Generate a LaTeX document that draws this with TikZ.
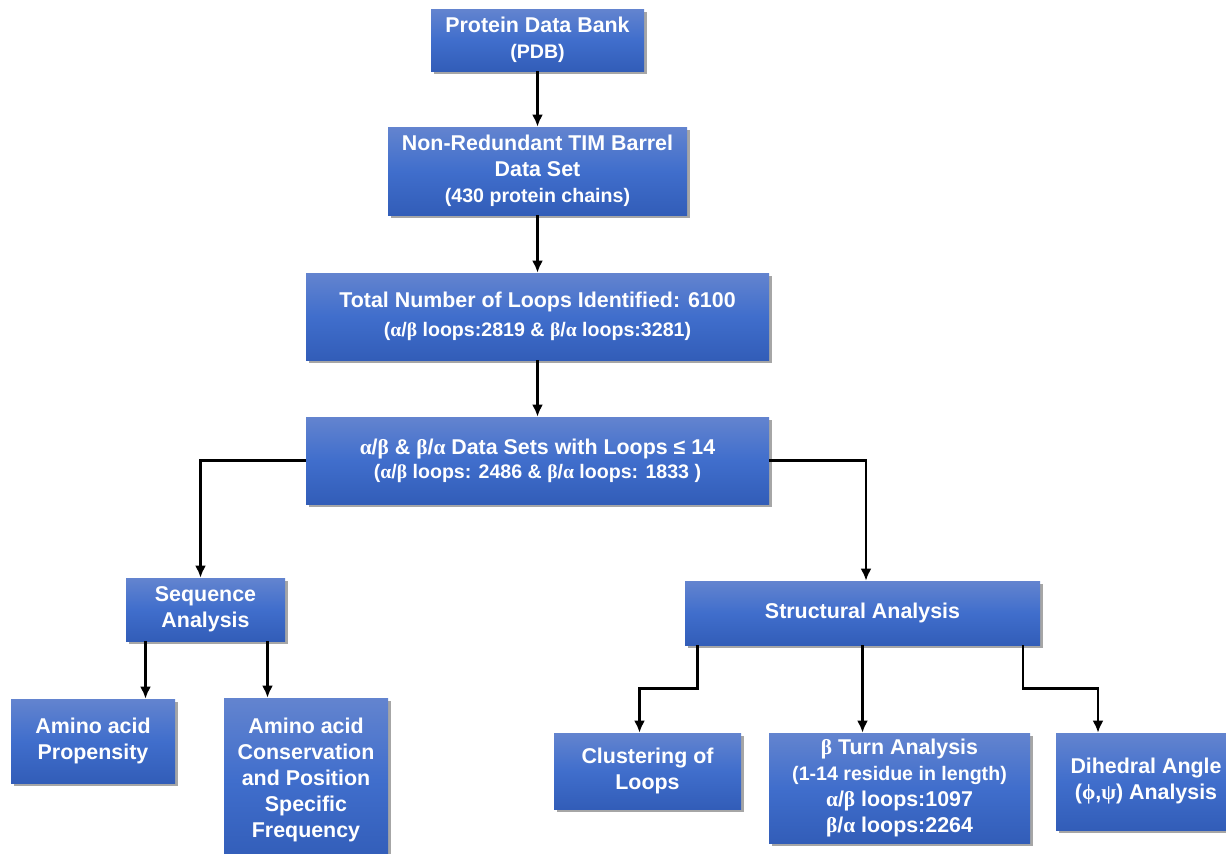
\documentclass[tikz,border=0pt]{standalone}
\usepackage{fontspec}
\setmainfont{Liberation Sans}
\newfontfamily\grk{Liberation Serif}
\usetikzlibrary{positioning,calc,shadows,arrows.meta}
\tikzset{>={Latex[length=6pt,width=5.5pt]}}
\definecolor{boxtop}{RGB}{99,132,207}
\definecolor{boxmid}{RGB}{64,110,204}
\definecolor{boxbot}{RGB}{50,93,184}
\newcommand{\mainsize}{\fontsize{10.7}{13}\selectfont}
\newcommand{\subsize}{\fontsize{9.8}{12.6}\selectfont}
\newcommand{\gAlpha}{{\grk α}}
\newcommand{\gBeta}{{\grk β}}
\newcommand{\gPhi}{{\grk ϕ}}
\newcommand{\gPsi}{{\grk ψ}}
\tikzset{
  flowbox/.style={top color=boxtop,bottom color=boxbot,middle color=boxmid,
    text=white,font=\bfseries\mainsize,align=center,inner sep=0pt,
    drop shadow={shadow xshift=1.3pt,shadow yshift=-1.3pt,opacity=0.35,fill=black}},
  flow/.style={->,line width=1.1pt,black},
}

\begin{document}
\begin{tikzpicture}[x=0.5pt,y=-0.5pt]
  \useasboundingbox (0,0) rectangle (1226,853);

  % --- Upper chain ---
  \node[flowbox,minimum width=106.5pt,minimum height=31pt] (pdb) at (537.5,40)
    {Protein Data Bank\\{\subsize (PDB)}};
  \node[flowbox,minimum width=149.5pt,minimum height=44pt] (tim) at (537.5,171)
    {Non-Redundant TIM Barrel\\Data Set\\{\subsize (430 protein chains)}};
  \node[flowbox,minimum width=231.5pt,minimum height=43.5pt] (loops) at (537.5,316.5)
    {Total Number of Loops Identified: 6100\\[1.5pt]
     {\subsize (\gAlpha/\gBeta\ loops:2819 \& \gBeta/\gAlpha\ loops:3281)}};
  \node[flowbox,minimum width=231.5pt,minimum height=43.5pt] (sets) at (537.5,460.5)
    {\gAlpha/\gBeta\ \& \gBeta/\gAlpha\ Data Sets with Loops ≤ 14\\[-1pt]
     {\subsize (\gAlpha/\gBeta\ loops: 2486 \& \gBeta/\gAlpha\ loops: 1833 )}};

  % --- Two branches ---
  \node[flowbox,minimum width=79.5pt,minimum height=31.5pt] (seq) at (205.5,609.5)
    {Sequence\\Analysis};
  \node[flowbox,minimum width=177.5pt,minimum height=32pt] (struct) at (862.5,613)
    {Structural Analysis};

  % --- Leaves ---
  \node[flowbox,minimum width=82pt,minimum height=42pt] (prop) at (93,741)
    {Amino acid\\Propensity};
  \node[flowbox,minimum width=82pt,minimum height=82pt] (cons) at (306,780)
    {Amino acid\\Conservation\\and Position\\Specific\\Frequency};
  \node[flowbox,minimum width=93.5pt,minimum height=38pt] (clus) at (647.5,771)
    {Clustering of\\Loops};
  \node[flowbox,minimum width=130.5pt,minimum height=55pt] (bturn) at (899.5,788)
    {\gBeta\ Turn Analysis\\
     {\subsize (1-14 residue in length)}\\
     \gAlpha/\gBeta\ loops:1097\\
     \gBeta/\gAlpha\ loops:2264};
  \node[flowbox,minimum width=90pt,minimum height=48.5pt] (dihed) at (1146,781.5)
    {Dihedral Angle\\(\gPhi,\gPsi) Analysis};

  % --- Connectors ---
  \draw[flow] (pdb) -- (tim);
  \draw[flow] (tim) -- (loops);
  \draw[flow] (loops) -- (sets);
  \draw[flow] (sets.west) -| ($(seq.north)+(-5,0)$);
  \draw[flow] (sets.east) -| ($(struct.north)+(3.5,0)$);

  \draw[flow] ($(seq.south)+(-60,0)$) coordinate (seqL) -- (seqL |- prop.north);
  \draw[flow] ($(seq.south)+(62,0)$) coordinate (seqR) -- (seqR |- cons.north);

  \draw[flow] ($(struct.south)+(-165,0)$) -- ++(0,43) -| ($(clus.north)+(-8,0)$);
  \draw[flow] (struct.south) -- (struct.south |- bturn.north);
  \draw[flow] ($(struct.south)+(160.5,0)$) -- ++(0,43) -| ($(dihed.north)+(-48,0)$);

\end{tikzpicture}
\end{document}
